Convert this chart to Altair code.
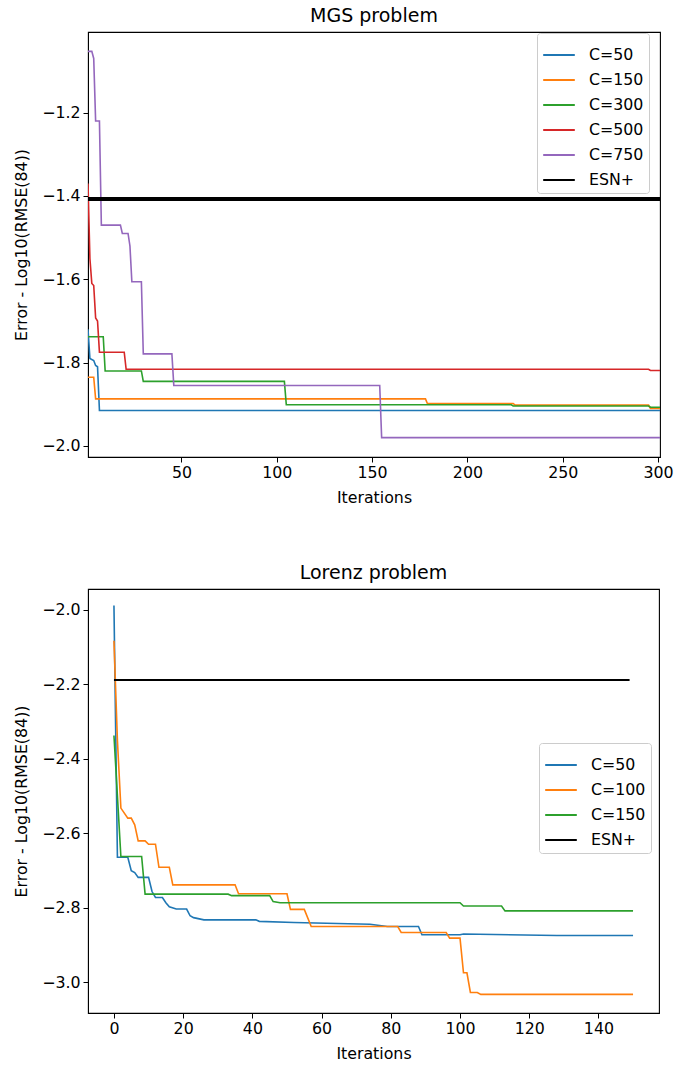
import altair as alt
import pandas as pd

FONT = "DejaVu Sans"

# ---------------- MGS problem ----------------
mgs_names = ["C=50", "C=150", "C=300", "C=500", "C=750"]
mgs_colors = ["#1f77b4", "#ff7f0e", "#2ca02c", "#d62728", "#9467bd"]

mgs_c50_x = [1, 2, 4, 5, 6, 7, 301]
mgs_c50_v = [-1.72, -1.79, -1.795, -1.807, -1.81, -1.915, -1.915]

mgs_c150_x = [1, 4, 5, 178, 179, 224, 225, 295, 296, 301]
mgs_c150_v = [-1.835, -1.835, -1.887, -1.887, -1.898, -1.898, -1.902, -1.902, -1.910, -1.910]

mgs_c300_x = [1, 9, 10, 29, 30, 104, 105, 223, 224, 295, 296, 301]
mgs_c300_v = [-1.738, -1.738, -1.82, -1.82, -1.845, -1.845, -1.901, -1.901, -1.904, -1.904, -1.907, -1.907]

mgs_c500_x = [1, 2, 3, 4, 5, 6, 7, 20, 21, 295, 296, 301]
mgs_c500_v = [-1.37, -1.55, -1.61, -1.615, -1.693, -1.70, -1.775, -1.775, -1.816, -1.816, -1.819, -1.819]

mgs_c750_x = [1, 3, 4, 5, 7, 8, 18, 19, 22, 23, 24, 29, 30, 45, 46, 154, 155, 301]
mgs_c750_v = [-1.053, -1.053, -1.07, -1.22, -1.22, -1.47, -1.47, -1.49, -1.49, -1.52, -1.606, -1.606,
              -1.779, -1.779, -1.855, -1.855, -1.98, -1.98]

mgs_esn_x = [1, 301]
mgs_esn_v = [-1.407, -1.407]

mgs_xticks = [50, 100, 150, 200, 250, 300]
mgs_yticks = [-1.2, -1.4, -1.6, -1.8, -2.0]

# ---------------- Lorenz problem ----------------
lor_names = ["C=50", "C=100", "C=150"]
lor_colors = ["#1f77b4", "#ff7f0e", "#2ca02c"]

lor_c50_x = [0, 1, 4, 5, 6, 7, 10, 11, 12, 14, 15, 16, 18, 21, 22, 23, 26, 41, 42, 52, 74, 79, 88, 89,
             100, 101, 128, 150]
lor_c50_v = [-1.988, -2.664, -2.664, -2.70, -2.705, -2.718, -2.718, -2.756, -2.772, -2.772, -2.786,
             -2.797, -2.803, -2.803, -2.821, -2.826, -2.832, -2.832, -2.836, -2.839, -2.844, -2.850,
             -2.850, -2.872, -2.872, -2.870, -2.874, -2.874]

lor_c100_x = [0, 1, 2, 4, 5, 6, 7, 9, 10, 12, 13, 16, 17, 35, 36, 50, 51, 55, 57, 82, 83, 96, 97,
              100, 101, 102, 103, 105, 106, 150]
lor_c100_v = [-2.083, -2.35, -2.532, -2.559, -2.559, -2.577, -2.620, -2.620, -2.629, -2.629, -2.691,
              -2.691, -2.738, -2.738, -2.762, -2.762, -2.804, -2.804, -2.850, -2.850, -2.866, -2.866,
              -2.881, -2.881, -2.974, -2.974, -3.027, -3.027, -3.032, -3.032]

lor_c150_x = [0, 2, 8, 9, 33, 34, 45, 46, 48, 100, 101, 112, 113, 150]
lor_c150_v = [-2.337, -2.662, -2.662, -2.763, -2.763, -2.767, -2.767, -2.783, -2.786, -2.786, -2.795,
              -2.795, -2.808, -2.808]

lor_esn_x = [0, 149]
lor_esn_v = [-2.188, -2.188]

lor_xticks = [0, 20, 40, 60, 80, 100, 120, 140]
lor_yticks = [-2.0, -2.2, -2.4, -2.6, -2.8, -3.0]

FS = 15.8


def panel(title, names, colors, xs, vs, esn_x, esn_v, esn_width, xdom, ydom, xticks, yticks,
          legend_x, legend_y, w, h):
    all_names = names + ["ESN+"]
    cscale = alt.Scale(domain=all_names, range=colors + ["black"])
    legend = alt.Legend(
        title=None, orient="none", legendX=legend_x, legendY=legend_y,
        symbolType="stroke", symbolSize=1000, symbolStrokeWidth=2,
        labelFont=FONT, labelFontSize=FS, labelColor="black", labelOffset=13,
        rowPadding=0, padding=5, strokeColor="#cccccc", fillColor="white",
        cornerRadius=3,
    )
    xenc = alt.X("it:Q", scale=alt.Scale(domain=xdom, nice=False, zero=False),
                 axis=alt.Axis(values=xticks, title="Iterations", format="d"))
    yenc = alt.Y("err:Q", scale=alt.Scale(domain=ydom, nice=False, zero=False),
                 axis=alt.Axis(values=yticks, title="Error - Log10(RMSE(84))", format=".1f"))
    layers = []
    for i, name in enumerate(names):
        df = pd.DataFrame({"it": xs[i], "err": vs[i], "series": name,
                           "o": list(range(len(xs[i])))})
        layers.append(
            alt.Chart(df).mark_line(strokeWidth=1.6, clip=True).encode(
                x=xenc, y=yenc,
                color=alt.Color("series:N", scale=cscale, legend=legend),
                order="o:Q",
            )
        )
    df = pd.DataFrame({"it": esn_x, "err": esn_v, "series": "ESN+", "o": [0, 1]})
    layers.append(
        alt.Chart(df).mark_line(strokeWidth=esn_width, clip=True).encode(
            x=xenc, y=yenc,
            color=alt.Color("series:N", scale=cscale, legend=legend),
            order="o:Q",
        )
    )
    return alt.layer(*layers).properties(
        width=w, height=h,
        title=alt.TitleParams(title, fontSize=19, fontWeight="normal", font=FONT,
                              offset=6.5, anchor="middle", color="black"),
    )


top = panel("MGS problem", mgs_names, mgs_colors,
            [mgs_c50_x, mgs_c150_x, mgs_c300_x, mgs_c500_x, mgs_c750_x],
            [mgs_c50_v, mgs_c150_v, mgs_c300_v, mgs_c500_v, mgs_c750_v],
            mgs_esn_x, mgs_esn_v, 4,
            [1, 301], [-2.0265, -1.0065], mgs_xticks, mgs_yticks,
            449, 1, 572, 425)

bottom = panel("Lorenz problem", lor_names, lor_colors,
               [lor_c50_x, lor_c100_x, lor_c150_x],
               [lor_c50_v, lor_c100_v, lor_c150_v],
               lor_esn_x, lor_esn_v, 2,
               [-7.5, 157.5], [-3.082, -1.944], lor_xticks, lor_yticks,
               451, 154, 571, 424)

chart = alt.vconcat(top, bottom, spacing=55).resolve_scale(
    color="independent"
).resolve_legend(
    color="independent"
).properties(
    padding={"left": 13, "top": 5, "right": 0, "bottom": 2},
    background="white",
).configure_view(
    stroke="black", strokeWidth=1.1,
).configure_axis(
    domainColor="black", tickColor="black", tickSize=5, grid=False,
    labelFont=FONT, labelFontSize=FS, labelColor="black", labelPadding=3,
    titleFont=FONT, titleFontSize=FS, titleFontWeight="normal", titleColor="black",
).configure_axisY(
    titlePadding=12,
).configure_axisX(
    titlePadding=11,
).configure_legend(
    symbolStrokeWidth=2,
)

chart.save("out.html", embed_options={"renderer": "svg", "actions": False})
